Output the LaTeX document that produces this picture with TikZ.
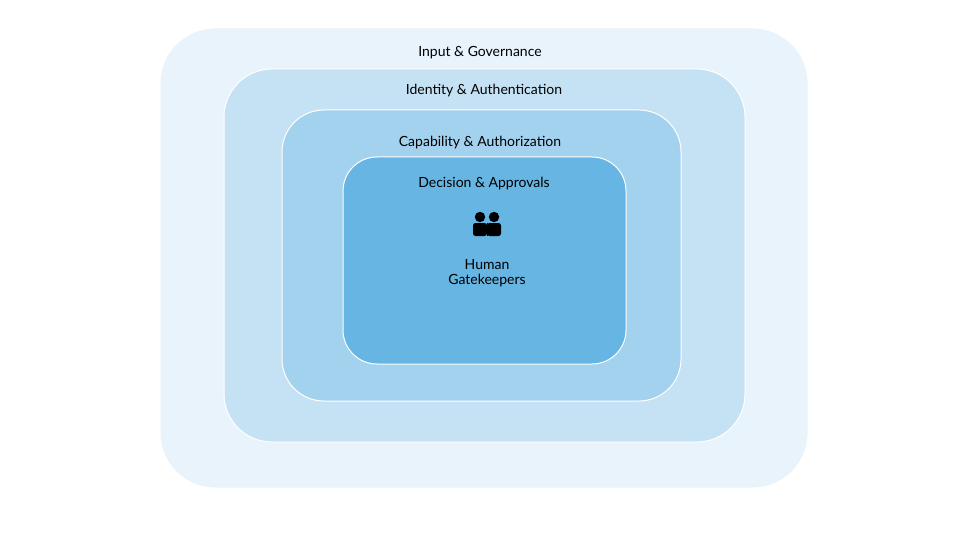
\documentclass[tikz,border=0pt]{standalone}
\usepackage{fontspec}
\setmainfont{Lato}
\begin{document}
\begin{tikzpicture}[x=1pt,y=-1pt,
 lay/.style={draw=white,line width=1pt},
 lbl/.style={font=\fontsize{14}{16}\selectfont,text=black}]
\useasboundingbox (0,0) rectangle (960,540);
\fill[white] (0,0) rectangle (960,540);
\draw[lay,fill={rgb,255:red,232;green,243;blue,251},rounded corners=55] (160,28) rectangle (808,488);
\draw[lay,fill={rgb,255:red,197;green,226;blue,244},rounded corners=48] (224,69) rectangle (745,442);
\draw[lay,fill={rgb,255:red,163;green,210;blue,238},rounded corners=42] (282,110) rectangle (681,401);
\draw[lay,fill={rgb,255:red,102;green,181;blue,226},rounded corners=34] (343,157) rectangle (626,364);
\node[lbl] (l1) at (480,53) {Input \& Governance};
\node[lbl] (l2) at (484,91) {Identity \& Authentication};
\node[lbl] (l3) at (480,143) {Capability \& Authorization};
\node[lbl] (l4) at (484,184) {Decision \& Approvals};
\node[lbl,align=center] (h) at (487,273) {Human\\[-1pt]Gatekeepers};
\foreach \cx in {480,494}{
 \fill[black] (\cx,217) circle (5.2);
 \fill[black,rounded corners=2.5] (\cx-7,223) rectangle (\cx+7,236);
}
\draw[black,line width=0.8pt] (487,223) -- (487,236);
\end{tikzpicture}
\end{document}
